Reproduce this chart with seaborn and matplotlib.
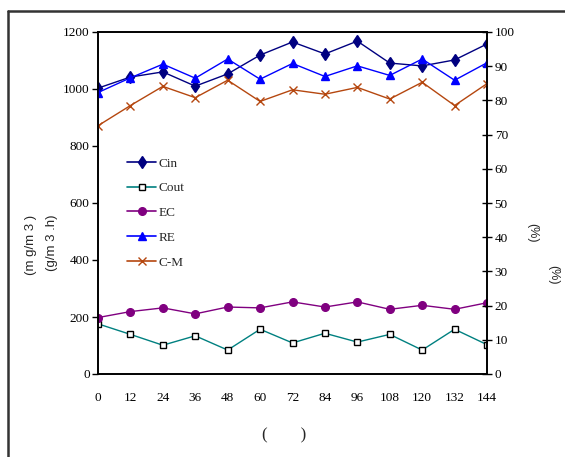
import matplotlib
matplotlib.use("Agg")
import matplotlib.pyplot as plt
import seaborn as sns
import pandas as pd
from matplotlib.lines import Line2D

hours = [0, 12, 24, 36, 48, 60, 72, 84, 96, 108, 120, 132, 144]
cin = [1003, 1042, 1060, 1010, 1053, 1119, 1165, 1123, 1168, 1091, 1081, 1102, 1158]
cout = [176, 139, 101, 134, 84, 157, 109, 143, 112, 139, 84, 157, 103]
ec = [198, 219, 232, 211, 235, 232, 253, 235, 253, 227, 241, 227, 250]
re = [82.3, 86.6, 90.6, 86.5, 92.1, 86.2, 90.8, 87.0, 90.1, 87.3, 92.1, 85.9, 91.0]
cm = [72.6, 78.5, 84.1, 80.8, 85.9, 79.7, 83.1, 81.8, 83.8, 80.4, 85.3, 78.5, 84.9]
left_ticks = [0, 200, 400, 600, 800, 1000, 1200]
right_ticks = [0, 10, 20, 30, 40, 50, 60, 70, 80, 90, 100]

sns.set_style("white")
plt.rcParams['font.family'] = ['Liberation Serif', 'DejaVu Serif']

W, H = 565, 457
fig = plt.figure(figsize=(W / 100, H / 100), dpi=100)
ax = fig.add_axes([98 / W, 1 - 374 / H, (487 - 98) / W, (374 - 32) / H])
ax2 = ax.twinx()

df = pd.DataFrame({"h": hours, "Cin": cin, "Cout": cout, "EC": ec, "RE": re, "C-M": cm})

styles = {
    "Cin": dict(color="#000080", marker="d", markersize=6, mfc="#000080", mec="#000080"),
    "Cout": dict(color="#008080", marker="s", markersize=5, mfc="white", mec="black"),
    "EC": dict(color="#800080", marker="o", markersize=5.5, mfc="#800080", mec="#800080"),
    "RE": dict(color="#0000FF", marker="^", markersize=6, mfc="#0000FF", mec="#0000FF"),
    "C-M": dict(color="#B5470F", marker="x", markersize=6, mfc="#B5470F", mec="#B5470F"),
}

for name in ["Cin", "Cout", "EC"]:
    st = styles[name]
    sns.lineplot(data=df, x="h", y=name, ax=ax, color=st["color"], marker=st["marker"],
                 markersize=st["markersize"], markerfacecolor=st["mfc"],
                 markeredgecolor=st["mec"], markeredgewidth=1, linewidth=1, legend=False)
for name in ["RE", "C-M"]:
    st = styles[name]
    sns.lineplot(data=df, x="h", y=name, ax=ax2, color=st["color"], marker=st["marker"],
                 markersize=st["markersize"], markerfacecolor=st["mfc"],
                 markeredgecolor=st["mec"], markeredgewidth=1, linewidth=1, legend=False)

ax.set_xlim(0, 144)
ax.set_ylim(0, 1200)
ax2.set_ylim(0, 100)
ax.set_xticks(hours)
ax.set_xticklabels([str(h) for h in hours])
ax.set_yticks(left_ticks)
ax2.set_yticks(right_ticks)
ax.set_xlabel("")
ax.set_ylabel("")
ax2.set_ylabel("")

for a in (ax, ax2):
    for s in a.spines.values():
        s.set_color("black")
        s.set_linewidth(1.2)
ax.tick_params(axis="y", direction="out", length=4, width=1, labelsize=9.5, pad=2, colors="black")
ax.tick_params(axis="x", direction="out", length=4, width=1, labelsize=9.5, pad=9, colors="black")
ax2.tick_params(axis="y", direction="inout", length=7, width=1, labelsize=9.5, pad=2, colors="black")

handles = []
for name in ["Cin", "Cout", "EC", "RE", "C-M"]:
    st = styles[name]
    handles.append(Line2D([], [], color=st["color"], marker=st["marker"], markersize=st["markersize"],
                          markerfacecolor=st["mfc"], markeredgecolor=st["mec"], linewidth=1.2))
leg = ax.legend(handles, ["Cin", "Cout", "EC", "RE", "C-M"], loc="upper left",
                bbox_to_anchor=((122 - 98) / (487 - 98), (374 - 152) / (374 - 32)),
                frameon=False, fontsize=9.5, handlelength=2.2, handletextpad=0.2,
                labelspacing=0.95, borderaxespad=0)

sans = ['Liberation Sans', 'DejaVu Sans']
fig.text(31 / W, 1 - 245 / H, "(m g/m 3 )", rotation=90, ha="center", va="center",
         fontsize=9.5, family=sans)
fig.text(52 / W, 1 - 243 / H, "(g/m 3 .h)", rotation=90, ha="center", va="center",
         fontsize=9.5, family=sans)
fig.text(532 / W, 1 - 233 / H, "(%)", rotation=270, ha="center", va="center",
         fontsize=9, family=sans)
fig.text(553 / W, 1 - 275 / H, "(%)", rotation=270, ha="center", va="center",
         fontsize=9, family=sans)
fig.text(284 / W, 1 - 435 / H, "(        )", ha="center", va="center", fontsize=12)

# outer frame (top and left edges)
fig.add_artist(Line2D([8 / W, 1.01], [1 - 11 / H, 1 - 11 / H], transform=fig.transFigure,
                      color="#333333", linewidth=1.8))
fig.add_artist(Line2D([8 / W, 8 / W], [1 - 11 / H, -0.01], transform=fig.transFigure,
                      color="#333333", linewidth=1.8))

fig.savefig("out.png", dpi=100)
